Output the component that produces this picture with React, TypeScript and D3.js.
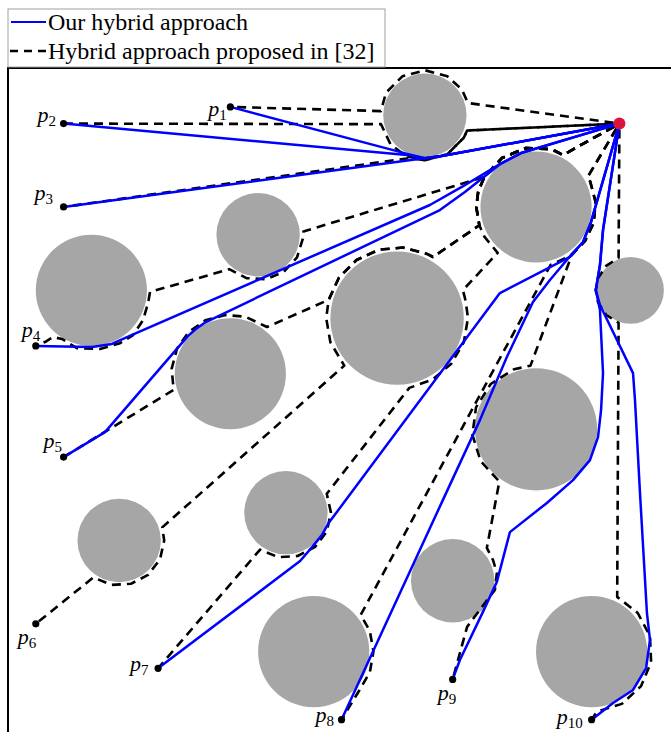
import React, { useEffect, useRef } from "react";
import * as d3 from "d3";

type Pt = [number, number];

// workspace in metres, goal and start positions
const goal: Pt = [22, 22];
const startLabels = ["1", "2", "3", "4", "5", "6", "7", "8", "9", "10"];
const starts: Pt[] = [
  [8, 22.6], [2, 22], [2, 19], [1, 14], [2, 10],
  [1, 4], [5.4, 2.4], [12, 0.55], [16, 2], [21, 0.55],
];

// obstacles: [cx, cy, r]
const obstacles: [number, number, number][] = [
  [15, 22.3, 1.5], [9, 18, 1.5], [3, 16, 2], [19, 19, 2], [14, 15, 2.4],
  [22.4, 16, 1.2], [8, 13, 2], [19, 11, 2.2], [4, 7, 1.5], [10, 8, 1.5],
  [16, 5.55, 1.5], [11, 3, 2], [21, 3, 2],
];

// intermediate waypoints of our hybrid approach (null = no path drawn)
const oursVia: (Pt[] | null)[] = [
  [[14.4, 20.9], [15, 20.75], [15.6, 20.83]],
  [[14.45, 20.86], [15, 20.75], [15.6, 20.83]],
  [[14.9, 20.74], [15.6, 20.83]],
  [[3.02, 13.96], [3.74, 14.07], [4.28, 14.32], [15.18, 19.07], [16.33, 19.72], [17.7, 20.54], [18.46, 20.94]],
  [[3.49, 10.9], [6.48, 14.36], [6.76, 14.61], [7.12, 14.86], [15.54, 18.89], [16.44, 19.54], [17.7, 20.54], [18.46, 20.94]],
  null,
  [[10.51, 6.26], [10.94, 6.76], [11.3, 7.2], [11.51, 7.59], [17.7, 15.9], [20.22, 17.2], [20.69, 17.74], [20.98, 18.46]],
  [[15.65, 8.46], [16.98, 11.33], [17.95, 13.6], [18.89, 15.58], [19.5, 16.37], [20.26, 17.27], [20.69, 17.74], [20.98, 18.46]],
  [[16.26, 2.7], [17.09, 4.43], [17.59, 5.51], [18.06, 7.3], [19.39, 8.35], [20.33, 9.17], [20.94, 9.89], [21.23, 10.72],
   [21.34, 11.69], [21.41, 13.02], [21.3, 15.29], [21.15, 16.01], [21.3, 16.91], [21.41, 18.17]],
  [[21.77, 1.15], [22.49, 1.62], [22.96, 2.41], [23.1, 3.42], [22.99, 4.39], [22.74, 8.71], [22.56, 12.05], [22.49, 13.02],
   [21.3, 15.47], [21.15, 16.01], [21.3, 16.91], [21.41, 18.17]],
];

// intermediate waypoints of the approach from [32]
const refVia: Pt[][] = [
  [[13.42, 22.45], [13.6, 23.11], [14.19, 23.7], [15, 23.92], [15.81, 23.7], [16.33, 23.23], [16.55, 22.74]],
  [[13.42, 21.98], [13.76, 21.26], [14.32, 20.83], [15, 20.68], [15.81, 20.9], [16.4, 21.49], [16.52, 21.75]],
  [[14.45, 20.76], [15, 20.68], [15.81, 20.9], [16.4, 21.49], [16.52, 21.75]],
  [[1.33, 14.14], [1.62, 14.32], [1.94, 14.25], [2.48, 13.92], [3.31, 13.89], [4.03, 14.1], [4.5, 14.39], [4.86, 14.93],
   [5.04, 15.54], [5.11, 15.94], [7.96, 16.76], [8.58, 16.44], [9.28, 16.4], [9.93, 16.67], [10.4, 17.19], [10.61, 17.86],
   [10.63, 18.12], [17.14, 20.08], [17.77, 20.76], [18.63, 21.12], [19.56, 21.08], [19.97, 20.87]],
  [[5.96, 12.42], [5.89, 13.18], [6.08, 13.9], [6.5, 14.5], [7.1, 14.92], [7.82, 15.11], [8.55, 15.05], [9.32, 14.68],
   [11.54, 15.66], [11.91, 16.46], [12.54, 17.09], [13.34, 17.46], [14.22, 17.54], [15.08, 17.31], [15.29, 17.2],
   [16.96, 18.34], [16.85, 19], [16.92, 19.56], [17.14, 20.08], [17.77, 20.76], [18.63, 21.12], [19.56, 21.08], [19.97, 20.87]],
  [[3.07, 5.67], [3.72, 5.4], [4.42, 5.44], [5.04, 5.76], [5.47, 6.32], [5.62, 7], [5.55, 7.47], [12.1, 13.29],
   [11.6, 14.13], [11.45, 15], [11.54, 15.66], [11.91, 16.46], [12.54, 17.09], [13.34, 17.46], [14.22, 17.54],
   [15.08, 17.31], [15.29, 17.2], [16.96, 18.34], [16.85, 19], [16.92, 19.56], [17.14, 20.08], [17.77, 20.76],
   [18.63, 21.12], [19.56, 21.08], [19.97, 20.87]],
  [[9.07, 6.67], [9.72, 6.4], [10.42, 6.44], [11.04, 6.76], [11.47, 7.32], [11.62, 8], [11.47, 8.68], [14.44, 12.49],
   [15.28, 12.79], [15.95, 13.36], [16.4, 14.13], [16.55, 15], [16.47, 15.6], [16.37, 16.01], [17.62, 17.35],
   [17.14, 17.93], [16.96, 18.34], [16.85, 19], [16.92, 19.56], [17.14, 20.08], [17.77, 20.76], [18.63, 21.12],
   [19.56, 21.08], [19.97, 20.87]],
  [[12.65, 1.62], [13.02, 2.26], [13.15, 3], [13.02, 3.74], [12.69, 4.32], [19.52, 16.91], [20.23, 17.24],
   [20.76, 17.77], [21.08, 18.44], [21.14, 19.19], [20.95, 19.91], [20.86, 20.08]],
  [[16.26, 2.95], [16.52, 3.89], [17.16, 4.75], [17.52, 5.22], [17.59, 5.83], [17.45, 6.3], [17.23, 6.73],
   [17.68, 9.12], [17.01, 9.85], [16.71, 10.8], [16.84, 11.79], [17.37, 12.63], [18.21, 13.16], [18.8, 13.29],
   [20.29, 17.28], [20.76, 17.77], [21.08, 18.44], [21.14, 19.19], [20.95, 19.91], [20.86, 20.08]],
  [[21.19, 0.84], [22.09, 1.12], [22.78, 1.76], [23.14, 2.62], [23.1, 3.56], [22.66, 4.39], [21.92, 4.97],
   [21.97, 14.83], [21.52, 15.12], [21.23, 15.57], [21.15, 16], [21.23, 16.43], [21.52, 16.88], [21.97, 17.17]],
];

const legendItems = ["Our hybrid approach", "Hybrid approach proposed in [32]"];

// label placement relative to the start dot (px)
const labelOffsets: Pt[] = [
  [-22, 9], [-26, -2], [-29, -7], [-14, -9], [-20, -9],
  [-18, 20], [-28, 3], [-26, 2], [-15, 21], [-35, 4],
];

// dash phase, counted back from the goal, so shared tails overlap cleanly
const DASH = 9;
const GAP = 6;
const dashShift = [0, 0, 7.5, 0, 0, 0, 0, 0, 0, 0];

const W = 671;
const H = 732;

const xScale = d3.scaleLinear().domain([0, 24]).range([8, 675]);
const yScale = d3.scaleLinear().domain([0, 24]).range([735, 68]);

const line = d3
  .line<Pt>()
  .x((d) => xScale(d[0]))
  .y((d) => yScale(d[1]));

const App = () => {
  const refPaths = useRef<(SVGPathElement | null)[]>([]);
  const font = "'Liberation Serif', 'DejaVu Serif', serif";

  useEffect(() => {
    const period = DASH + GAP;
    refPaths.current.forEach((el, i) => {
      if (!el) return;
      const len = el.getTotalLength();
      const off = (period - (len % period)) % period + dashShift[i];
      el.setAttribute("stroke-dashoffset", String(off));
    });
  }, []);

  return (
    <svg
      width={W}
      height={H}
      style={{ position: "absolute", left: 0, top: 0, background: "#fff" }}
    >
      {/* frame */}
      <rect
        x={xScale(0)}
        y={yScale(24)}
        width={xScale(24) - xScale(0)}
        height={yScale(0) - yScale(24)}
        fill="none"
        stroke="#000"
        strokeWidth={2}
      />

      {obstacles.map(([cx, cy, r], i) => (
        <circle
          key={"o" + i}
          cx={xScale(cx)}
          cy={yScale(cy)}
          r={xScale(r) - xScale(0)}
          fill="#a6a6a6"
        />
      ))}

      {refVia.map((via, i) => (
        <path
          key={"r" + i}
          ref={(el) => {
            refPaths.current[i] = el;
          }}
          d={line([starts[i], ...via, goal]) || ""}
          fill="none"
          stroke="#000"
          strokeWidth={2.6}
          strokeLinejoin="round"
          strokeDasharray={`${DASH},${GAP}`}
        />
      ))}

      {oursVia.map((via, i) =>
        via ? (
          <path
            key={"b" + i}
            d={line([starts[i], ...via, goal]) || ""}
            fill="none"
            stroke="#0000ff"
            strokeWidth={2.5}
            strokeLinejoin="round"
          />
        ) : null
      )}

      {starts.map((p, i) => (
        <g key={"s" + i}>
          <circle cx={xScale(p[0])} cy={yScale(p[1])} r={3.6} fill="#000" />
          <text
            x={xScale(p[0]) + labelOffsets[i][0]}
            y={yScale(p[1]) + labelOffsets[i][1]}
            fontFamily={font}
            fontSize={22}
            fontStyle="italic"
          >
            p
            <tspan dy={4} fontSize={15} fontStyle="normal">
              {startLabels[i]}
            </tspan>
          </text>
        </g>
      ))}

      <circle cx={xScale(goal[0])} cy={yScale(goal[1])} r={6} fill="#dc143c" />

      {/* legend */}
      <rect x={8} y={9} width={377} height={58} fill="#fff" stroke="#a0a0a0" strokeWidth={1} />
      <line x1={11} x2={46} y1={22} y2={22} stroke="#0000ff" strokeWidth={2} />
      <line x1={10} x2={46} y1={51} y2={51} stroke="#000" strokeWidth={2.4} strokeDasharray="8,6" />
      {legendItems.map((t, i) => (
        <text key={t} x={48} y={30 + i * 29} fontFamily={font} fontSize={24} fill="#000">
          {t}
        </text>
      ))}
    </svg>
  );
};

export default App;
